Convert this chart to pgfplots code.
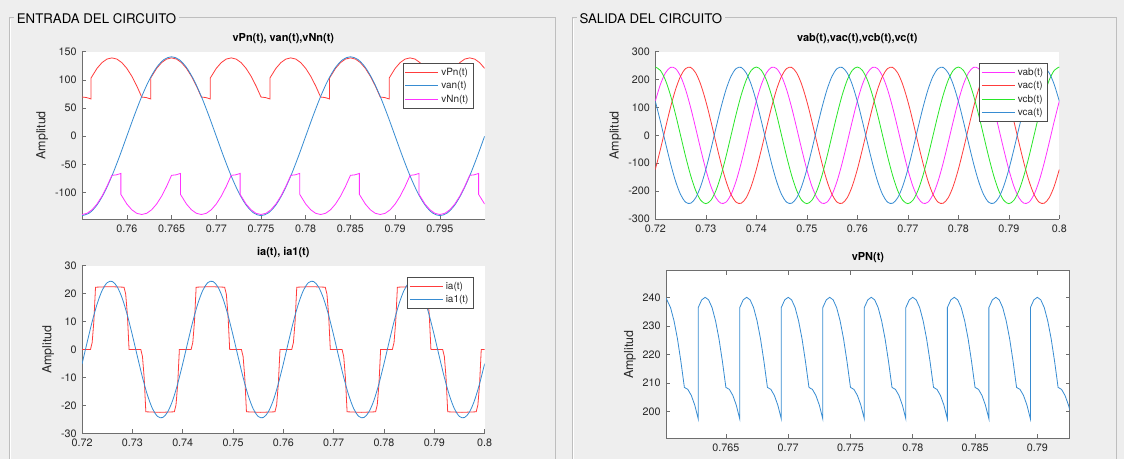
\documentclass[border=0pt]{standalone}
\usepackage{pgfplots}
\pgfplotsset{compat=1.18}
\usepackage{pgfplotstable}
\usepackage{fontspec}
\setmainfont{TeX Gyre Heros}
\definecolor{bg}{RGB}{238,238,238}
\definecolor{panelline}{RGB}{190,190,190}
\definecolor{axgray}{RGB}{110,110,110}
\definecolor{tickgray}{RGB}{40,40,40}
\definecolor{mred}{RGB}{255,60,60}
\definecolor{mblue}{RGB}{55,140,210}
\definecolor{mmag}{RGB}{255,50,255}
\definecolor{mgreen}{RGB}{40,230,40}

\pgfplotstableread{
t v
0.755 -141
0.755833 -136.2
0.756667 -122.1
0.7575 -99.7
0.758333 -70.5
0.759167 -36.5
0.76 0
0.760833 36.5
0.761667 70.5
0.7625 99.7
0.763333 122.1
0.764167 136.2
0.765 141
0.765833 136.2
0.766667 122.1
0.7675 99.7
0.768333 70.5
0.769167 36.5
0.77 0
0.770833 -36.5
0.771667 -70.5
0.7725 -99.7
0.773333 -122.1
0.774167 -136.2
0.775 -141
0.775833 -136.2
0.776667 -122.1
0.7775 -99.7
0.778333 -70.5
0.779167 -36.5
0.78 0
0.780833 36.5
0.781667 70.5
0.7825 99.7
0.783333 122.1
0.784167 136.2
0.785 141
0.785833 136.2
0.786667 122.1
0.7875 99.7
0.788333 70.5
0.789167 36.5
0.79 0
0.790833 -36.5
0.791667 -70.5
0.7925 -99.7
0.793333 -122.1
0.794167 -136.2
0.795 -141
0.795833 -136.2
0.796667 -122.1
0.7975 -99.7
0.798333 -70.5
0.799167 -36.5
0.8 0
}\vantab

\pgfplotstableread{
t v
0.755 69.5
0.7555 68.6
0.756 66.1
0.756 103.3
0.756667 120.4
0.757222 130.6
0.757778 136.9
0.758333 139
0.758889 136.9
0.759444 130.6
0.76 120.4
0.760556 106.5
0.761111 89.3
0.761667 69.5
0.762167 68.6
0.762667 66.1
0.762667 103.3
0.763333 120.4
0.763889 130.6
0.764444 136.9
0.765 139
0.765556 136.9
0.766111 130.6
0.766667 120.4
0.767222 106.5
0.767778 89.3
0.768333 69.5
0.768833 68.6
0.769333 66.1
0.769333 103.3
0.77 120.4
0.770556 130.6
0.771111 136.9
0.771667 139
0.772222 136.9
0.772778 130.6
0.773333 120.4
0.773889 106.5
0.774444 89.3
0.775 69.5
0.7755 68.6
0.776 66.1
0.776 103.3
0.776667 120.4
0.777222 130.6
0.777778 136.9
0.778333 139
0.778889 136.9
0.779444 130.6
0.78 120.4
0.780556 106.5
0.781111 89.3
0.781667 69.5
0.782167 68.6
0.782667 66.1
0.782667 103.3
0.783333 120.4
0.783889 130.6
0.784444 136.9
0.785 139
0.785556 136.9
0.786111 130.6
0.786667 120.4
0.787222 106.5
0.787778 89.3
0.788333 69.5
0.788833 68.6
0.789333 66.1
0.789333 103.3
0.79 120.4
0.790556 130.6
0.791111 136.9
0.791667 139
0.792222 136.9
0.792778 130.6
0.793333 120.4
0.793889 106.5
0.794444 89.3
0.795 69.5
0.7955 68.6
0.796 66.1
0.796 103.3
0.796667 120.4
0.797222 130.6
0.797778 136.9
0.798333 139
0.798889 136.9
0.799444 130.6
0.8 120.4
}\vpntab

\pgfplotstableread{
t v
0.755 -139
0.755556 -136.9
0.756111 -130.6
0.756667 -120.4
0.757222 -106.5
0.757778 -89.3
0.758333 -69.5
0.758833 -68.6
0.759333 -66.1
0.759333 -103.3
0.76 -120.4
0.760556 -130.6
0.761111 -136.9
0.761667 -139
0.762222 -136.9
0.762778 -130.6
0.763333 -120.4
0.763889 -106.5
0.764444 -89.3
0.765 -69.5
0.7655 -68.6
0.766 -66.1
0.766 -103.3
0.766667 -120.4
0.767222 -130.6
0.767778 -136.9
0.768333 -139
0.768889 -136.9
0.769444 -130.6
0.77 -120.4
0.770556 -106.5
0.771111 -89.3
0.771667 -69.5
0.772167 -68.6
0.772667 -66.1
0.772667 -103.3
0.773333 -120.4
0.773889 -130.6
0.774444 -136.9
0.775 -139
0.775556 -136.9
0.776111 -130.6
0.776667 -120.4
0.777222 -106.5
0.777778 -89.3
0.778333 -69.5
0.778833 -68.6
0.779333 -66.1
0.779333 -103.3
0.78 -120.4
0.780556 -130.6
0.781111 -136.9
0.781667 -139
0.782222 -136.9
0.782778 -130.6
0.783333 -120.4
0.783889 -106.5
0.784444 -89.3
0.785 -69.5
0.7855 -68.6
0.786 -66.1
0.786 -103.3
0.786667 -120.4
0.787222 -130.6
0.787778 -136.9
0.788333 -139
0.788889 -136.9
0.789444 -130.6
0.79 -120.4
0.790556 -106.5
0.791111 -89.3
0.791667 -69.5
0.792167 -68.6
0.792667 -66.1
0.792667 -103.3
0.793333 -120.4
0.793889 -130.6
0.794444 -136.9
0.795 -139
0.795556 -136.9
0.796111 -130.6
0.796667 -120.4
0.797222 -106.5
0.797778 -89.3
0.798333 -69.5
0.798833 -68.6
0.799333 -66.1
0.799333 -103.3
0.8 -120.4
}\vnntab

\pgfplotstableread{
t i
0.72 0
0.721667 0
0.722 2.5
0.722333 10.0
0.722667 22.3
0.7255 22.5
0.728333 22.3
0.728667 19.8
0.729 12.4
0.729333 0
0.731667 0
0.732 -2.5
0.732333 -10.0
0.732667 -22.3
0.7355 -22.5
0.738333 -22.3
0.738667 -19.8
0.739 -12.4
0.739333 0
0.741667 0
0.742 2.5
0.742333 10.0
0.742667 22.3
0.7455 22.5
0.748333 22.3
0.748667 19.8
0.749 12.4
0.749333 0
0.751667 0
0.752 -2.5
0.752333 -10.0
0.752667 -22.3
0.7555 -22.5
0.758333 -22.3
0.758667 -19.8
0.759 -12.4
0.759333 0
0.761667 0
0.762 2.5
0.762333 10.0
0.762667 22.3
0.7655 22.5
0.768333 22.3
0.768667 19.8
0.769 12.4
0.769333 0
0.771667 0
0.772 -2.5
0.772333 -10.0
0.772667 -22.3
0.7755 -22.5
0.778333 -22.3
0.778667 -19.8
0.779 -12.4
0.779333 0
0.781667 0
0.782 2.5
0.782333 10.0
0.782667 22.3
0.7855 22.5
0.788333 22.3
0.788667 19.8
0.789 12.4
0.789333 0
0.791667 0
0.792 -2.5
0.792333 -10.0
0.792667 -22.3
0.7955 -22.5
0.798333 -22.3
0.798667 -19.8
0.799 -12.4
0.799333 0
0.8 0
}\iatab

\pgfplotstableread{
t i
0.720 -5.09
0.721 2.56
0.722 9.97
0.723 16.39
0.724 21.22
0.725 23.96
0.726 24.37
0.727 22.38
0.728 18.21
0.729 12.25
0.730 5.09
0.731 -2.56
0.732 -9.97
0.733 -16.39
0.734 -21.22
0.735 -23.96
0.736 -24.37
0.737 -22.38
0.738 -18.21
0.739 -12.25
0.740 -5.09
0.741 2.56
0.742 9.97
0.743 16.39
0.744 21.22
0.745 23.96
0.746 24.37
0.747 22.38
0.748 18.21
0.749 12.25
0.750 5.09
0.751 -2.56
0.752 -9.97
0.753 -16.39
0.754 -21.22
0.755 -23.96
0.756 -24.37
0.757 -22.38
0.758 -18.21
0.759 -12.25
0.760 -5.09
0.761 2.56
0.762 9.97
0.763 16.39
0.764 21.22
0.765 23.96
0.766 24.37
0.767 22.38
0.768 18.21
0.769 12.25
0.770 5.09
0.771 -2.56
0.772 -9.97
0.773 -16.39
0.774 -21.22
0.775 -23.96
0.776 -24.37
0.777 -22.38
0.778 -18.21
0.779 -12.25
0.780 -5.09
0.781 2.56
0.782 9.97
0.783 16.39
0.784 21.22
0.785 23.96
0.786 24.37
0.787 22.38
0.788 18.21
0.789 12.25
0.790 5.09
0.791 -2.56
0.792 -9.97
0.793 -16.39
0.794 -21.22
0.795 -23.96
0.796 -24.37
0.797 -22.38
0.798 -18.21
0.799 -12.25
0.800 -5.09
}\iatwotab

\pgfplotstableread{
t vab vac vcb vca
0.720 122.5 -122.5 245 122.5
0.721 182.1 -50.9 233.0 50.9
0.722 223.8 25.6 198.2 -25.6
0.723 243.7 99.6 144.0 -99.6
0.724 239.6 163.9 75.7 -163.9
0.725 212.2 212.2 0 -212.2
0.726 163.9 239.6 -75.7 -239.6
0.727 99.6 243.7 -144.0 -243.7
0.728 25.6 223.8 -198.2 -223.8
0.729 -50.9 182.1 -233.0 -182.1
0.730 -122.5 122.5 -245 -122.5
0.731 -182.1 50.9 -233.0 -50.9
0.732 -223.8 -25.6 -198.2 25.6
0.733 -243.7 -99.6 -144.0 99.6
0.734 -239.6 -163.9 -75.7 163.9
0.735 -212.2 -212.2 0 212.2
0.736 -163.9 -239.6 75.7 239.6
0.737 -99.6 -243.7 144.0 243.7
0.738 -25.6 -223.8 198.2 223.8
0.739 50.9 -182.1 233.0 182.1
0.740 122.5 -122.5 245 122.5
0.741 182.1 -50.9 233.0 50.9
0.742 223.8 25.6 198.2 -25.6
0.743 243.7 99.6 144.0 -99.6
0.744 239.6 163.9 75.7 -163.9
0.745 212.2 212.2 0 -212.2
0.746 163.9 239.6 -75.7 -239.6
0.747 99.6 243.7 -144.0 -243.7
0.748 25.6 223.8 -198.2 -223.8
0.749 -50.9 182.1 -233.0 -182.1
0.750 -122.5 122.5 -245 -122.5
0.751 -182.1 50.9 -233.0 -50.9
0.752 -223.8 -25.6 -198.2 25.6
0.753 -243.7 -99.6 -144.0 99.6
0.754 -239.6 -163.9 -75.7 163.9
0.755 -212.2 -212.2 0 212.2
0.756 -163.9 -239.6 75.7 239.6
0.757 -99.6 -243.7 144.0 243.7
0.758 -25.6 -223.8 198.2 223.8
0.759 50.9 -182.1 233.0 182.1
0.760 122.5 -122.5 245 122.5
0.761 182.1 -50.9 233.0 50.9
0.762 223.8 25.6 198.2 -25.6
0.763 243.7 99.6 144.0 -99.6
0.764 239.6 163.9 75.7 -163.9
0.765 212.2 212.2 0 -212.2
0.766 163.9 239.6 -75.7 -239.6
0.767 99.6 243.7 -144.0 -243.7
0.768 25.6 223.8 -198.2 -223.8
0.769 -50.9 182.1 -233.0 -182.1
0.770 -122.5 122.5 -245 -122.5
0.771 -182.1 50.9 -233.0 -50.9
0.772 -223.8 -25.6 -198.2 25.6
0.773 -243.7 -99.6 -144.0 99.6
0.774 -239.6 -163.9 -75.7 163.9
0.775 -212.2 -212.2 0 212.2
0.776 -163.9 -239.6 75.7 239.6
0.777 -99.6 -243.7 144.0 243.7
0.778 -25.6 -223.8 198.2 223.8
0.779 50.9 -182.1 233.0 182.1
0.780 122.5 -122.5 245 122.5
0.781 182.1 -50.9 233.0 50.9
0.782 223.8 25.6 198.2 -25.6
0.783 243.7 99.6 144.0 -99.6
0.784 239.6 163.9 75.7 -163.9
0.785 212.2 212.2 0 -212.2
0.786 163.9 239.6 -75.7 -239.6
0.787 99.6 243.7 -144.0 -243.7
0.788 25.6 223.8 -198.2 -223.8
0.789 -50.9 182.1 -233.0 -182.1
0.790 -122.5 122.5 -245 -122.5
0.791 -182.1 50.9 -233.0 -50.9
0.792 -223.8 -25.6 -198.2 25.6
0.793 -243.7 -99.6 -144.0 99.6
0.794 -239.6 -163.9 -75.7 163.9
0.795 -212.2 -212.2 0 212.2
0.796 -163.9 -239.6 75.7 239.6
0.797 -99.6 -243.7 144.0 243.7
0.798 -25.6 -223.8 198.2 223.8
0.799 50.9 -182.1 233.0 182.1
0.800 122.5 -122.5 245 122.5
}\lltab

\pgfplotstableread{
t v
0.7602 239.7
0.760556 236.4
0.760833 231.8
0.761111 225.5
0.761389 217.5
0.761667 208.5
0.761944 207.8
0.762222 205.7
0.7625 202.3
0.762778 197.5
0.762778 236.4
0.763056 239.1
0.763333 240
0.763611 239.1
0.763889 236.4
0.764167 231.8
0.764444 225.5
0.764722 217.5
0.765 208.5
0.765278 207.8
0.765556 205.7
0.765833 202.3
0.766111 197.5
0.766111 236.4
0.766389 239.1
0.766667 240
0.766944 239.1
0.767222 236.4
0.7675 231.8
0.767778 225.5
0.768056 217.5
0.768333 208.5
0.768611 207.8
0.768889 205.7
0.769167 202.3
0.769444 197.5
0.769444 236.4
0.769722 239.1
0.77 240
0.770278 239.1
0.770556 236.4
0.770833 231.8
0.771111 225.5
0.771389 217.5
0.771667 208.5
0.771944 207.8
0.772222 205.7
0.7725 202.3
0.772778 197.5
0.772778 236.4
0.773056 239.1
0.773333 240
0.773611 239.1
0.773889 236.4
0.774167 231.8
0.774444 225.5
0.774722 217.5
0.775 208.5
0.775278 207.8
0.775556 205.7
0.775833 202.3
0.776111 197.5
0.776111 236.4
0.776389 239.1
0.776667 240
0.776944 239.1
0.777222 236.4
0.7775 231.8
0.777778 225.5
0.778056 217.5
0.778333 208.5
0.778611 207.8
0.778889 205.7
0.779167 202.3
0.779444 197.5
0.779444 236.4
0.779722 239.1
0.78 240
0.780278 239.1
0.780556 236.4
0.780833 231.8
0.781111 225.5
0.781389 217.5
0.781667 208.5
0.781944 207.8
0.782222 205.7
0.7825 202.3
0.782778 197.5
0.782778 236.4
0.783056 239.1
0.783333 240
0.783611 239.1
0.783889 236.4
0.784167 231.8
0.784444 225.5
0.784722 217.5
0.785 208.5
0.785278 207.8
0.785556 205.7
0.785833 202.3
0.786111 197.5
0.786111 236.4
0.786389 239.1
0.786667 240
0.786944 239.1
0.787222 236.4
0.7875 231.8
0.787778 225.5
0.788056 217.5
0.788333 208.5
0.788611 207.8
0.788889 205.7
0.789167 202.3
0.789444 197.5
0.789444 236.4
0.789722 239.1
0.79 240
0.790278 239.1
0.790556 236.4
0.790833 231.8
0.791111 225.5
0.791389 217.5
0.791667 208.5
0.791944 207.8
0.792222 205.7
0.7925 202.3
0.7926 200.7
}\vpNtab

\pgfplotsset{
  mat/.style={
    scale only axis,
    enlargelimits=false,
    scaled x ticks=false, scaled y ticks=false,
    /pgf/number format/assume math mode=true,
    axis background/.style={fill=white},
    axis line style={draw=axgray, line width=0.6bp},
    tick style={draw=axgray, line width=0.6bp},
    tick align=inside,
    major tick length=4bp,
    ticklabel style={font=\fontsize{10.8}{12}\selectfont, text=tickgray},
    xticklabel style={yshift=-2bp},
    yticklabel style={xshift=-2bp},
    title style={font=\bfseries\fontsize{11}{12}\selectfont, text=black, yshift=-1bp},
    ylabel style={font=\fontsize{12.5}{14}\selectfont, text=tickgray},
    every axis plot/.append style={line width=0.8bp},
    legend style={at={(1,1)}, anchor=north east, xshift=-11.4bp, yshift=-11.6bp,
      draw=black!70, line width=0.5bp, fill=white,
      font=\fontsize{10}{11}\selectfont, text=black!85,
      inner xsep=2bp, inner ysep=1.8bp, row sep=0bp,
      nodes={inner ysep=2.4bp, inner xsep=2.5bp},
      cells={anchor=west}},
    legend image code/.code={\draw[##1] (0bp,0bp) -- (33bp,0bp);},
  },
  boxoff/.style={
    axis x line*=bottom, axis y line*=left,
    x axis line style={-}, y axis line style={-},
    tick pos=left,
  },
}

\begin{document}
\begin{tikzpicture}
\begin{scope}[x=1bp,y=-1bp]
\useasboundingbox (0,0) rectangle (1124,459);
\fill[bg] (0,0) rectangle (1124,459);
\draw[panelline, line width=0.8bp] (9,17.7) rectangle (555,480);
\draw[white, line width=0.6bp] (10,18.7) -- (10,480);
\draw[panelline, line width=0.8bp] (572.7,17.7) rectangle (1116.7,480);
\draw[white, line width=0.6bp] (573.7,18.7) -- (573.7,480);
\node[fill=bg, anchor=west, inner xsep=2.5bp, inner ysep=1bp, font=\fontsize{13.3}{15}\selectfont] at (14.2,18.5) {ENTRADA DEL CIRCUITO};
\node[fill=bg, anchor=west, inner xsep=2.5bp, inner ysep=1bp, font=\fontsize{13.3}{15}\selectfont] at (576.8,18.5) {SALIDA DEL CIRCUITO};
\end{scope}

% top-left
\begin{axis}[mat, boxoff,
  at={(82.1bp,-51.7bp)}, anchor=north west,
  width=402.5bp, height=167.3bp,
  xmin=0.755, xmax=0.8, ymin=-147, ymax=150,
  xtick={0.76,0.765,0.77,0.775,0.78,0.785,0.79,0.795},
  xticklabels={0.76,0.765,0.77,0.775,0.78,0.785,0.79,0.795},
  ytick={-100,-50,0,50,100,150},
  title={vPn(t), van(t),vNn(t)},
  ylabel={Amplitud},
]
\addplot[mred] table[x=t,y=v] {\vpntab};
\addplot[mblue, smooth] table[x=t,y=v] {\vantab};
\addplot[mmag] table[x=t,y=v] {\vnntab};
\legend{vPn(t),van(t),vNn(t)}
\end{axis}

% bottom-left
\begin{axis}[mat, boxoff,
  at={(82.1bp,-265.7bp)}, anchor=north west,
  width=402.5bp, height=167.6bp,
  xmin=0.72, xmax=0.8, ymin=-30, ymax=30,
  xtick={0.72,0.73,0.74,0.75,0.76,0.77,0.78,0.79,0.8},
  xticklabels={0.72,0.73,0.74,0.75,0.76,0.77,0.78,0.79,0.8},
  ytick={-30,-20,-10,0,10,20,30},
  title={ia(t), ia1(t)},
  ylabel={Amplitud},
]
\addplot[mred] table[x=t,y=i] {\iatab};
\addplot[mblue, smooth] table[x=t,y=i] {\iatwotab};
\legend{ia(t),ia1(t)}
\end{axis}

% top-right
\begin{axis}[mat, boxoff,
  at={(655.3bp,-51.7bp)}, anchor=north west,
  width=404bp, height=167.3bp,
  xmin=0.72, xmax=0.8, ymin=-300, ymax=300,
  xtick={0.72,0.73,0.74,0.75,0.76,0.77,0.78,0.79,0.8},
  xticklabels={0.72,0.73,0.74,0.75,0.76,0.77,0.78,0.79,0.8},
  ytick={-300,-200,-100,0,100,200,300},
  title={vab(t),vac(t),vcb(t),vc(t)},
  ylabel={Amplitud},
]
\addplot[mmag, smooth] table[x=t,y=vab] {\lltab};
\addplot[mred, smooth] table[x=t,y=vac] {\lltab};
\addplot[mgreen, smooth] table[x=t,y=vcb] {\lltab};
\addplot[mblue, smooth] table[x=t,y=vca] {\lltab};
\legend{vab(t),vac(t),vcb(t),vca(t)}
\end{axis}

% bottom-right
\begin{axis}[mat,
  at={(666.1bp,-270.7bp)}, anchor=north west,
  width=403.6bp, height=167.6bp,
  xmin=0.7602, xmax=0.7926, ymin=190.7, ymax=249.3,
  xtick={0.765,0.77,0.775,0.78,0.785,0.79},
  xticklabels={0.765,0.77,0.775,0.78,0.785,0.79},
  ytick={200,210,220,230,240},
  title={vPN(t)},
  ylabel={Amplitud},
]
\addplot[mblue] table[x=t,y=v] {\vpNtab};
\end{axis}
\end{tikzpicture}
\end{document}
